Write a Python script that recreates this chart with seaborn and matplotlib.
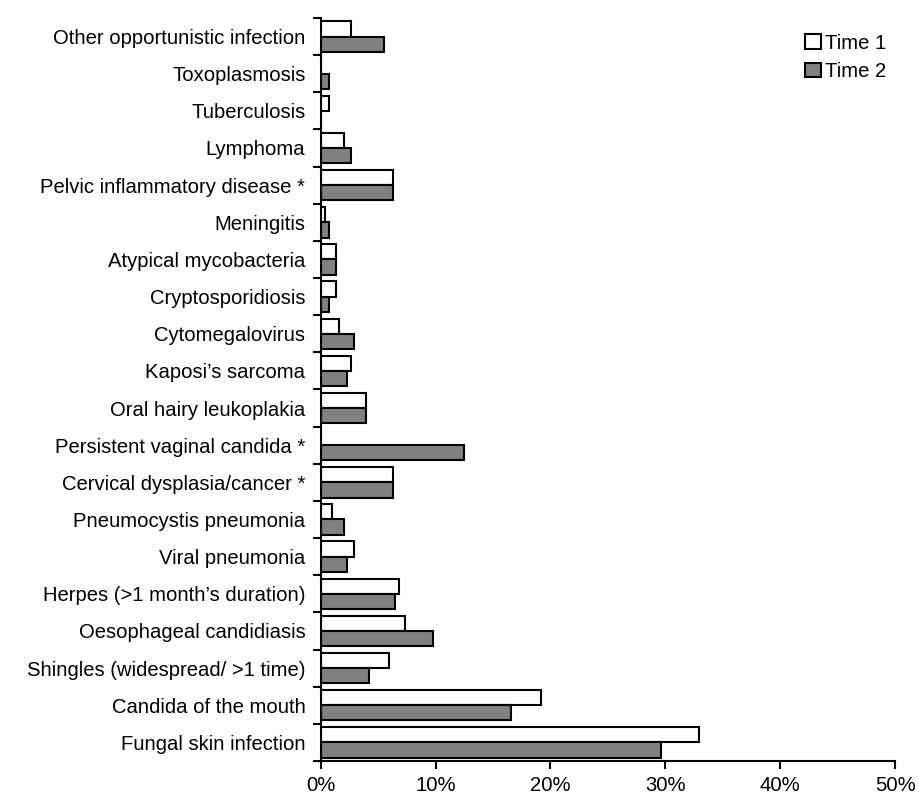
import numpy as np
import pandas as pd
import matplotlib
matplotlib.use("Agg")
import matplotlib.pyplot as plt
import seaborn as sns
from matplotlib.patches import Patch
from matplotlib.ticker import PercentFormatter, FixedLocator

# Conditions, top to bottom as drawn
conditions = [
    "Other opportunistic infection",
    "Toxoplasmosis",
    "Tuberculosis",
    "Lymphoma",
    "Pelvic inflammatory disease *",
    "Meningitis",
    "Atypical mycobacteria",
    "Cryptosporidiosis",
    "Cytomegalovirus",
    "Kaposi\u2019s sarcoma",
    "Oral hairy leukoplakia",
    "Persistent vaginal candida *",
    "Cervical dysplasia/cancer *",
    "Pneumocystis pneumonia",
    "Viral pneumonia",
    "Herpes (>1 month\u2019s duration)",
    "Oesophageal candidiasis",
    "Shingles (widespread/ >1 time)",
    "Candida of the mouth",
    "Fungal skin infection",
]

# Percent of participants
time1 = [2.6, 0.0, 0.7, 2.0, 6.3, 0.35, 1.3, 1.3, 1.6, 2.6,
         3.9, 0.0, 6.3, 1.0, 2.9, 6.8, 7.3, 5.9, 19.2, 32.9]
time2 = [5.5, 0.7, 0.0, 2.6, 6.3, 0.7, 1.3, 0.7, 2.9, 2.3,
         3.9, 12.5, 6.3, 2.0, 2.3, 6.5, 9.8, 4.2, 16.6, 29.6]

periods = ["Time 1", "Time 2"]
colors = {"Time 1": "#ffffff", "Time 2": "#808080"}

df = pd.DataFrame({
    "condition": conditions * 2,
    "period": [periods[0]] * len(conditions) + [periods[1]] * len(conditions),
    "pct": time1 + time2,
})

sns.set_style("white")
plt.rcParams["font.family"] = ["Liberation Sans", "DejaVu Sans"]
plt.rcParams["text.color"] = "black"
plt.rcParams["xtick.color"] = "black"
plt.rcParams["ytick.color"] = "black"

fs = 14.6

fig = plt.figure(figsize=(9.19, 8.05), dpi=100)
ax = fig.add_axes([0.349, 0.0547, 0.625, 0.923])

sns.barplot(
    data=df, x="pct", y="condition", hue="period",
    order=conditions, hue_order=periods, palette=colors,
    edgecolor="black", linewidth=1.5, width=0.82, ax=ax, legend=False,
)

ax.set_xlim(0, 50)
ax.set_ylim(len(conditions) - 0.5, -0.5)
ax.set_xticks([0, 10, 20, 30, 40, 50])
ax.xaxis.set_major_formatter(PercentFormatter(decimals=0))
ax.set_xlabel("")
ax.set_ylabel("")

# category boundary ticks on the y axis
ax.yaxis.set_minor_locator(FixedLocator(np.arange(-0.5, len(conditions), 1.0)))
ax.tick_params(axis="y", which="major", length=0, pad=11, labelsize=fs, labelcolor="black")
ax.tick_params(axis="y", which="minor", length=6, width=1.5, color="black", direction="out", left=True)
ax.tick_params(axis="x", which="major", length=6, width=1.5, color="black", direction="out",
               bottom=True, labelsize=fs, labelcolor="black", pad=5)

for side in ["top", "right"]:
    ax.spines[side].set_visible(False)
for side in ["left", "bottom"]:
    ax.spines[side].set_color("black")
    ax.spines[side].set_linewidth(1.5)

handles = [Patch(facecolor=colors[p], edgecolor="black", linewidth=1.5, label=p) for p in periods]
ax.legend(handles=handles, loc="upper left", bbox_to_anchor=(0.812, 1.003), frameon=False,
          fontsize=fs, handlelength=0.75, handleheight=0.75, handletextpad=0.2, labelspacing=0.45,
          labelcolor="black")

fig.savefig("out.png", dpi=100)
